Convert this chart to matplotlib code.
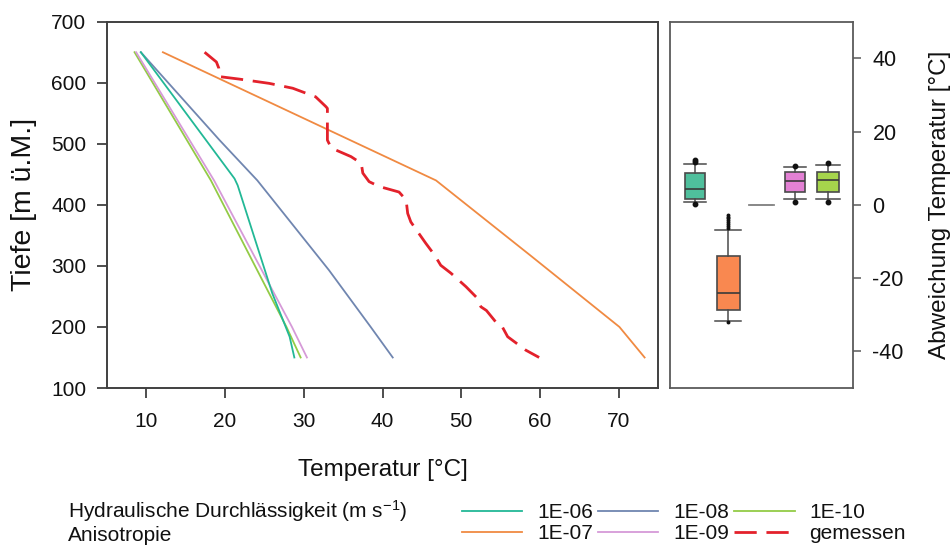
import matplotlib
matplotlib.use("Agg")
import matplotlib.pyplot as plt

plt.rcParams["font.family"] = ["Liberation Sans", "DejaVu Sans"]
plt.rcParams["mathtext.fontset"] = "custom"
plt.rcParams["mathtext.rm"] = "Liberation Sans"
plt.rcParams["mathtext.it"] = "Liberation Sans"
plt.rcParams["axes.unicode_minus"] = False

# Temperature profiles (temperature in degC, depth in m a.s.l.)
t_1e06 = [9.3, 21.2, 21.6, 26.0, 28.2, 28.8]
z_1e06 = [650, 443, 432, 255, 184, 150]

t_1e07 = [12.1, 46.8, 58.8, 70.1, 73.3]
z_1e07 = [650, 440, 317, 200, 150]

t_1e08 = [9.3, 19.3, 24.1, 33.2, 38.5, 41.3]
z_1e08 = [650, 506, 440, 293, 200, 150]

t_1e09 = [8.7, 18.6, 28.5, 30.4]
z_1e09 = [650, 440, 200, 150]

t_1e10 = [8.5, 18.2, 27.8, 29.6]
z_1e10 = [650, 440, 200, 150]

t_meas = [17.4, 18.9, 19.2, 19.3, 21.8, 25.6, 28.6, 31.5, 32.8, 33.0, 33.0,
          33.5, 36.0, 37.3, 37.5, 38.3, 39.6, 42.1, 43.0, 43.2, 43.6, 44.3,
          45.5, 46.6, 47.4, 48.7, 50.6, 51.9, 52.5, 53.2, 54.4, 55.1, 55.9,
          58.2, 59.9]
z_meas = [650, 634, 624, 610, 606, 599, 591, 577, 561, 558, 506,
          493, 479, 468, 452, 438, 430, 421, 408, 386, 372, 359,
          337, 318, 301, 288, 266, 249, 233, 227, 208, 203, 184,
          162, 150]

# Deviation statistics per model
box_labels = ["1E-06", "1E-07", "1E-08", "1E-09", "1E-10"]
box_whislo = [0.7, -31.6, 0.0, 1.6, 1.6]
box_q1 = [1.6, -28.8, 0.0, 3.5, 3.6]
box_med = [4.4, -24.1, 0.0, 6.4, 6.8]
box_q3 = [8.6, -14.1, 0.0, 8.9, 9.1]
box_whishi = [11.2, -6.8, 0.0, 10.2, 10.9]
box_fliers = [
    [11.7, 12.3, 0.2],
    [-32.1, -2.7, -3.2, -3.7, -4.2, -4.7, -5.2, -5.7, -6.2],
    [],
    [10.7, 0.9],
    [11.4, 0.7],
]

c_1e06 = "#22b896"
c_1e07 = "#f08a42"
c_1e08 = "#7086b0"
c_1e09 = "#d69ad8"
c_1e10 = "#93cb46"
c_meas = "#e3212b"
box_fill = ["#4fbf9c", "#f98850", "#8a8a8a", "#e381d4", "#a6d54c"]
text_c = "#111111"

fig = plt.figure(figsize=(9.52, 5.46), dpi=100)
W, H = 952, 546
ax = fig.add_axes([107 / W, 1 - 388 / H, 551 / W, 366.3 / H])
axb = fig.add_axes([670 / W, 1 - 388 / H, 183 / W, 366.3 / H])

lw = 1.3
ax.plot(t_1e10, z_1e10, color=c_1e10, lw=lw, label="1E-10")
ax.plot(t_1e09, z_1e09, color=c_1e09, lw=lw, label="1E-09")
ax.plot(t_1e08, z_1e08, color=c_1e08, lw=lw, label="1E-08")
ax.plot(t_1e06, z_1e06, color=c_1e06, lw=lw, label="1E-06")
ax.plot(t_1e07, z_1e07, color=c_1e07, lw=lw, label="1E-07")
ax.plot(t_meas, z_meas, color=c_meas, lw=2.0, dashes=(8, 3.5),
        label="gemessen")

ax.set_xlim(5, 75)
ax.set_ylim(100, 700)
ax.set_xticks(range(10, 80, 10))
ax.set_yticks(range(100, 800, 100))
spine_c = "#404040"
for s in ax.spines.values():
    s.set_color(spine_c)
    s.set_linewidth(1.4)
ax.tick_params(axis="both", direction="out", length=7, width=1.3,
               color=spine_c, labelsize=15, labelcolor=text_c)
ax.tick_params(axis="x", pad=10)
ax.tick_params(axis="y", pad=8)
ax.set_xlabel("Temperatur [°C]", fontsize=17.5, color=text_c)
ax.xaxis.set_label_coords(0.5, (388 - 470) / 366.3)
ax.xaxis.label.set_va("center")
ax.set_ylabel("Tiefe [m ü.M.]", fontsize=20.5, color=text_c)
ax.yaxis.set_label_coords((24 - 107) / 551, 0.5)
ax.yaxis.label.set_va("center")

# Box plots of the deviation
stats = []
for i in range(len(box_labels)):
    stats.append(dict(label=box_labels[i], whislo=box_whislo[i], q1=box_q1[i],
                      med=box_med[i], q3=box_q3[i], whishi=box_whishi[i],
                      fliers=box_fliers[i]))
positions = [1, 2, 3, 4, 5]
widths = [0.58, 0.7, 0.7, 0.6, 0.65]
edge = "#4a4a4a"
bp = axb.bxp(stats, positions=positions, widths=widths,
             capwidths=[w * 1.1 for w in widths], patch_artist=True,
             boxprops=dict(edgecolor=edge, linewidth=1.2),
             medianprops=dict(color="#3a3a3a", linewidth=1.2),
             whiskerprops=dict(color=edge, linewidth=1.1),
             capprops=dict(color=edge, linewidth=1.1),
             flierprops=dict(marker="o", markersize=3.2,
                             markerfacecolor="#111111",
                             markeredgecolor="#111111"))
for patch, fc in zip(bp["boxes"], box_fill):
    patch.set_facecolor(fc)
bp["boxes"][2].set_edgecolor("#8a8a8a")
bp["medians"][2].set_color("#8a8a8a")
for ln in bp["caps"][4:6] + bp["whiskers"][4:6]:
    ln.set_color("#8a8a8a")
bp["fliers"][1].set_markersize(1.8)

axb.set_xlim(0.25, 5.75)
axb.set_ylim(-50, 50)
axb.set_xticks([])
axb.yaxis.tick_right()
axb.yaxis.set_label_position("right")
axb.set_yticks([-40, -20, 0, 20, 40])
for s in axb.spines.values():
    s.set_color("#5a5a5a")
    s.set_linewidth(1.3)
axb.tick_params(axis="y", direction="out", length=6, width=1.1,
                color="#5a5a5a", labelsize=15.5, labelcolor=text_c, pad=8)
axb.set_ylabel("Abweichung Temperatur [°C]", fontsize=17.5, color=text_c)
axb.yaxis.set_label_coords((940 - 670) / 183, 0.5)
axb.yaxis.label.set_va("center")

# Legend below the plots
lines = {l.get_label(): l for l in ax.get_lines()}
order = ["1E-06", "1E-07", "1E-08", "1E-09", "1E-10", "gemessen"]
fig.legend([lines[k] for k in order], order, ncol=3, loc="upper left",
           bbox_to_anchor=(462 / W, 1 - 503 / H), frameon=False,
           fontsize=15, handlelength=2.9, handletextpad=0.7,
           columnspacing=0.25, labelspacing=0.1, borderpad=0,
           borderaxespad=0, labelcolor=text_c)
fig.text(68 / W, 1 - 518 / H, "Hydraulische Durchlässigkeit (m s$^{-1}$)",
         fontsize=15, va="baseline", ha="left", color=text_c)
fig.text(68 / W, 1 - 541 / H, "Anisotropie", fontsize=15, va="baseline",
         ha="left", color=text_c)

fig.savefig("out.png", dpi=100)
